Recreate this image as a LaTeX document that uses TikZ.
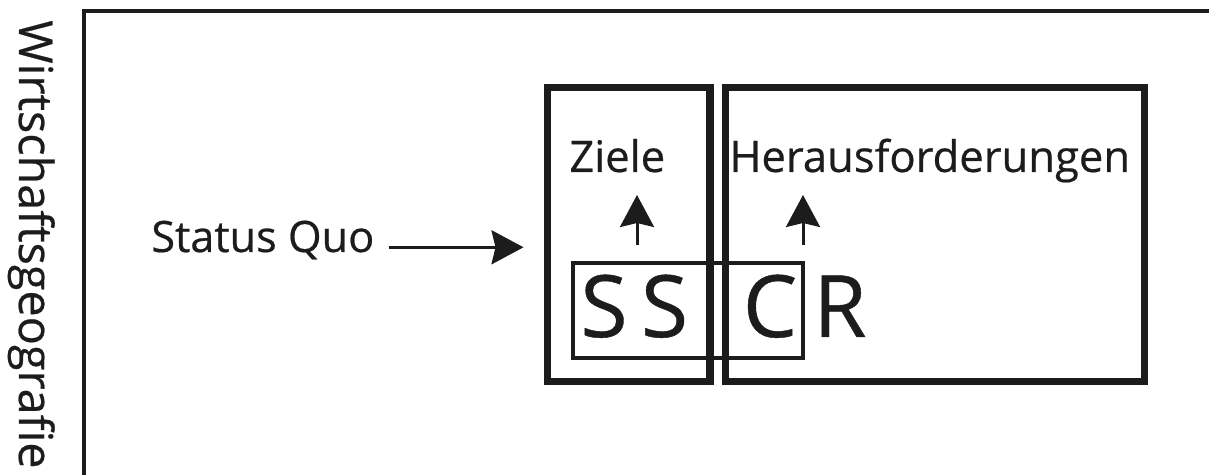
\documentclass[tikz,border=0pt]{standalone}
\usepackage{fontspec}
\setmainfont{Open Sans}[FakeBold=0.5]
\usetikzlibrary{arrows.meta,positioning}
\definecolor{Ink}{HTML}{1C1C1C}

\begin{document}
\begin{tikzpicture}[
  x=0.02cm,y=-0.02cm,
  frame/.style={draw=Ink,line width=2.5pt},
  bigbox/.style={draw=Ink,line width=4pt,minimum height=5.9cm,inner sep=0pt},
  thinbox/.style={draw=Ink,line width=1.9pt,minimum width=4.6cm,minimum height=1.9cm,inner sep=0pt},
  lbl/.style={inner sep=0pt,text=Ink,font=\fontsize{24.8}{28}\selectfont},
  sidelbl/.style={inner sep=0pt,text=Ink,font=\fontsize{24.6}{30}\selectfont},
  vlbl/.style={inner sep=0pt,text=Ink,font=\fontsize{26.6}{30}\selectfont},
  letter/.style={inner sep=0pt,text=Ink,font=\fontsize{49}{56}\selectfont},
  arrow/.style={-{Stealth[length=6.4mm,width=6.8mm,inset=0.8mm]},line width=1.7pt,draw=Ink}
]
\clip (0,0) rectangle (1209,475);
% outer frame, runs off the page
\draw[frame] (84,490) -- (84,11) -- (1220,11);
\node[vlbl,rotate=-90,anchor=base west] (wigeo) at (19,20) {Wirtschaftsgeografie};

% the two boxes
\node[bigbox,minimum width=3.26cm] (zielbox) at (628.5,234.5) {};
\node[bigbox,minimum width=8.4cm] (herbox) at (935,234.5) {};
\node[thinbox] (ssc) at (688,310.5) {};

\node[lbl,anchor=base west] (ziele) at (569,172) {Ziele};
\node[lbl,anchor=base west] (heraus) at (729,172) {Herausforderungen};
\node[sidelbl,anchor=base west] (statq) at (151,252) {Status Quo};

\node[letter,anchor=base] (s1) at (604,337) {S};
\node[letter,anchor=base] (s2) at (664.5,337) {S};
\node[letter,anchor=base] (c) at (770,337) {C};
\node[letter,anchor=base] (r) at (840,337) {R};

\coordinate (upz) at (637,245);
\coordinate (uph) at (803,245);
\draw[arrow,shorten >=0.46cm] (upz) -- (upz |- ziele.base);
\draw[arrow,shorten >=0.46cm] (uph) -- (uph |- heraus.base);
\draw[arrow,shorten >=0.4cm] (statq.mid east) ++(0.28cm,0) -- (zielbox.west |- statq.mid east);
\end{tikzpicture}
\end{document}
